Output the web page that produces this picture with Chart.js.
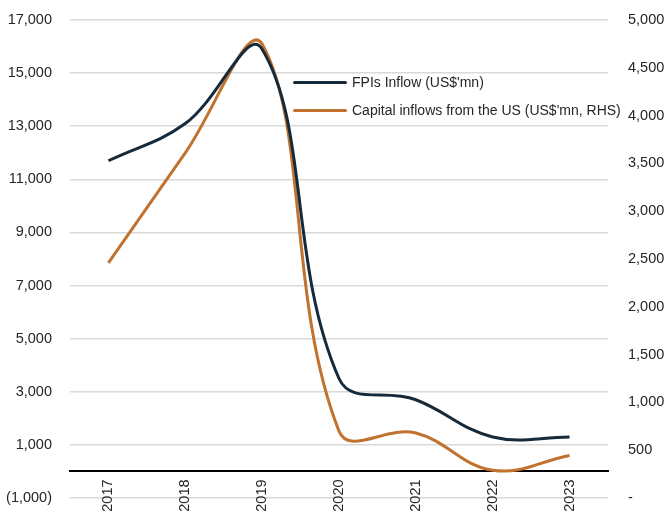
<!DOCTYPE html>
<html>
<head>
<meta charset="utf-8">
<script src="https://cdn.jsdelivr.net/npm/chart.js@4.4.1/dist/chart.umd.min.js"></script>
<style>
  html, body { margin: 0; padding: 0; background: #ffffff; }
  #wrap { position: relative; width: 665px; height: 516px; }
  #legend { position: absolute; left: 293px; top: 68px; font-family: "Liberation Sans", Arial, sans-serif; font-size: 14px; color: #262626; }
  #legend .row { display: flex; align-items: center; height: 28px; }
  #legend .swatch { width: 54px; height: 3px; margin-right: 5px; border-radius: 1.5px; }
</style>
</head>
<body>
<div id="wrap">
  <canvas id="chart" width="665" height="516"></canvas>
  <div id="legend"></div>
</div>
<script>
// Years on the category axis
const years = ['2017', '2018', '2019', '2020', '2021', '2022', '2023'];

// FPI inflows, US$ mn (left axis)
const fpiInflow = [11700, 13100, 15900, 3500, 2700, 1300, 1300];

// Capital inflows from the US, US$ mn (right axis)
const usInflow = [2460, 3610, 4750, 700, 680, 290, 445];

const seriesNames = ["FPIs Inflow (US$'mn)", "Capital inflows from the US (US$'mn, RHS)"];
const seriesColors = ['#152a3b', '#c0722e'];

const tickFont = { family: '"Liberation Sans", Arial, sans-serif', size: 14.5 };
const tickColor = '#262626';

function fmtThousands(v) {
  const s = Math.abs(v).toLocaleString('en-US');
  return v < 0 ? '(' + s + ')' : s;
}

// value axes: fixed width, no automatic padding for the end labels
function fixVertical(width) {
  return s => {
    s.width = width;
    s.paddingTop = 0;
    s.paddingBottom = 0;
  };
}

new Chart(document.getElementById('chart'), {
  type: 'line',
  data: {
    labels: years,
    datasets: [
      {
        label: seriesNames[0],
        data: fpiInflow,
        yAxisID: 'y',
        borderColor: seriesColors[0],
        borderWidth: 3,
        pointRadius: 0,
        tension: 0.4,
        fill: false
      },
      {
        label: seriesNames[1],
        data: usInflow,
        yAxisID: 'y1',
        borderColor: seriesColors[1],
        borderWidth: 3,
        pointRadius: 0,
        tension: 0.4,
        fill: false
      }
    ]
  },
  options: {
    responsive: false,
    animation: false,
    layout: { padding: { top: 20, bottom: 18, left: 0, right: 0 } },
    plugins: {
      legend: { display: false },
      tooltip: { enabled: false }
    },
    scales: {
      x: {
        position: { y: 0 },
        offset: true,
        grid: { display: false, drawTicks: false },
        border: { display: true, color: '#000000', width: 2 },
        ticks: {
          font: tickFont,
          color: tickColor,
          minRotation: 90,
          maxRotation: 90,
          padding: 8
        },
        afterFit: s => { s.height = 0; s.paddingLeft = 0; s.paddingRight = 0; }
      },
      y: {
        position: 'left',
        min: -1000,
        max: 17000,
        ticks: {
          stepSize: 2000,
          font: tickFont,
          color: tickColor,
          padding: 18,
          callback: v => fmtThousands(v)
        },
        grid: { color: '#d9d9d9', lineWidth: 1.5, drawTicks: false },
        border: { display: false },
        afterFit: fixVertical(70)
      },
      y1: {
        position: 'right',
        min: 0,
        max: 5000,
        ticks: {
          stepSize: 500,
          font: tickFont,
          color: tickColor,
          padding: 20,
          callback: v => v === 0 ? '-' : fmtThousands(v)
        },
        grid: { display: false, drawTicks: false },
        border: { display: false },
        afterFit: fixVertical(57)
      }
    }
  }
});

// Legend rows
const legend = document.getElementById('legend');
seriesNames.forEach((name, i) => {
  const row = document.createElement('div');
  row.className = 'row';
  const sw = document.createElement('span');
  sw.className = 'swatch';
  sw.style.background = seriesColors[i];
  const txt = document.createElement('span');
  txt.textContent = name;
  row.appendChild(sw);
  row.appendChild(txt);
  legend.appendChild(row);
});
</script>
</body>
</html>
